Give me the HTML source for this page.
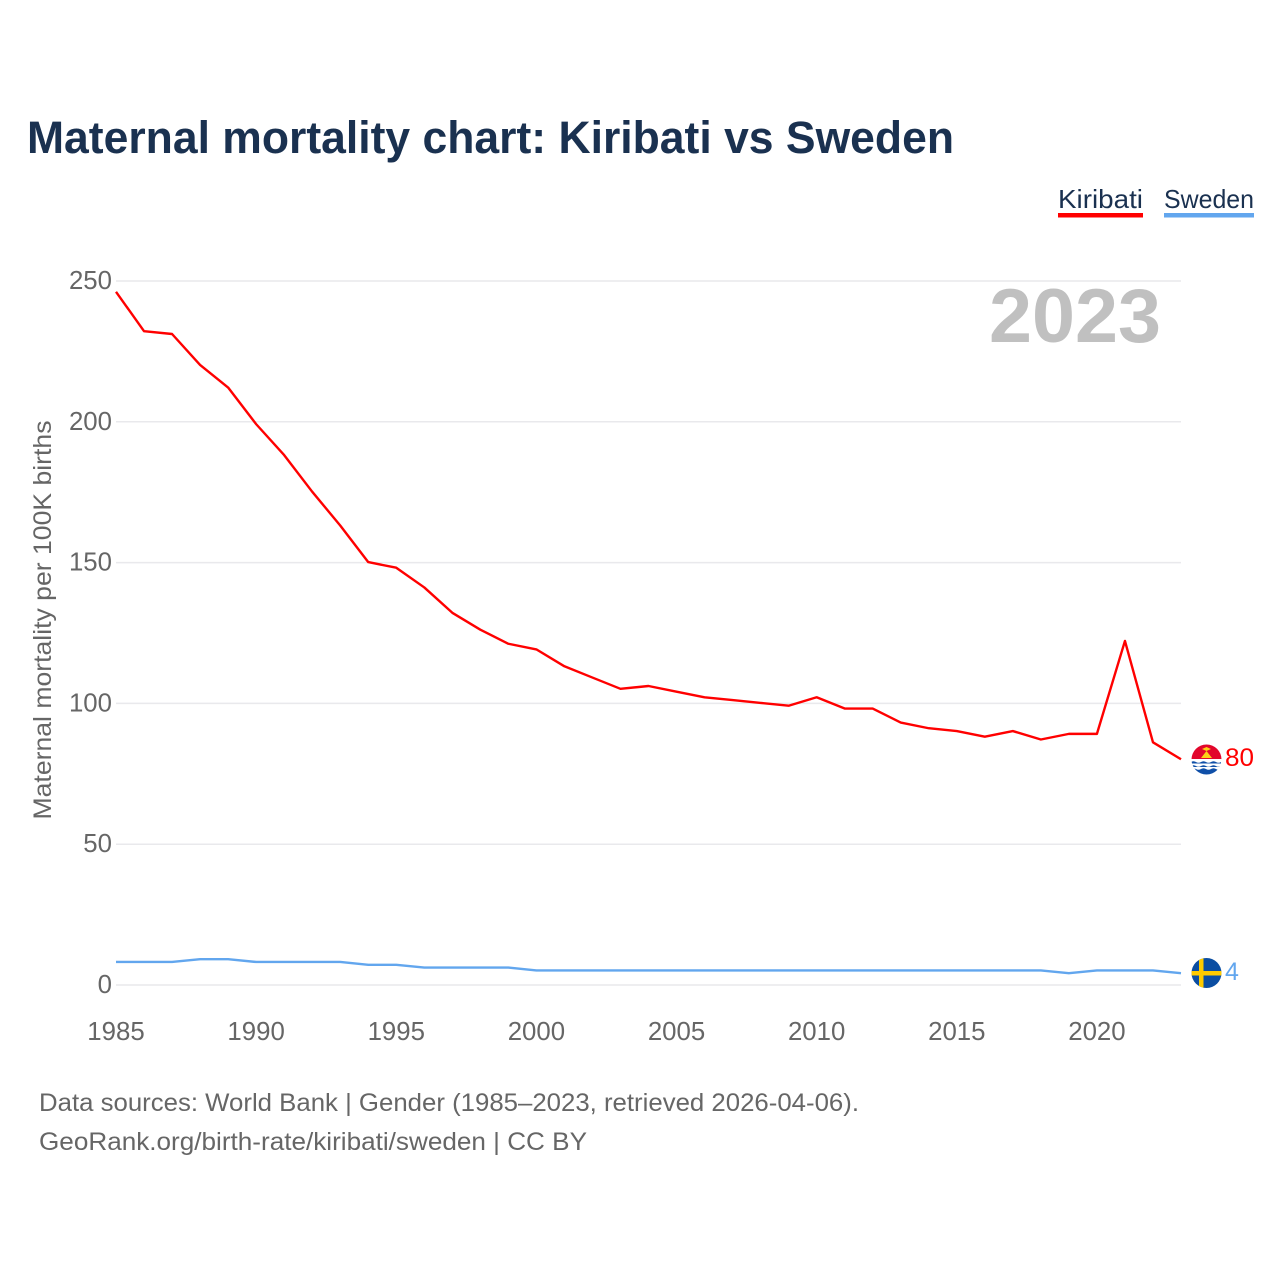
<!DOCTYPE html>
<html lang="en">
<head>
<meta charset="utf-8">
<title>Maternal mortality chart: Kiribati vs Sweden</title>
<style>
html,body{margin:0;padding:0;background:#fff;width:1280px;height:1280px;overflow:hidden}
svg{display:block}
text{font-family:"Liberation Sans",sans-serif}
</style>
</head>
<body>
<svg id="chart" xmlns="http://www.w3.org/2000/svg" width="1280" height="1280" viewBox="0 0 1280 1280">
  <defs>
    <clipPath id="clip-ki"><circle cx="1206.5" cy="759.5" r="15"/></clipPath>
    <clipPath id="clip-se"><circle cx="1206.5" cy="973" r="15"/></clipPath>
  </defs>
  <text x="27" y="153" font-size="45" font-weight="700" fill="#1a3150" textLength="927" lengthAdjust="spacingAndGlyphs">Maternal mortality chart: Kiribati vs Sweden</text>

  <g>
    <text x="1058" y="208" font-size="26" fill="#1a3150" textLength="85" lengthAdjust="spacingAndGlyphs">Kiribati</text>
    <rect x="1058" y="213" width="85" height="4.5" fill="#ff0000"/>
  </g>
  <g>
    <text x="1164" y="208" font-size="26" fill="#1a3150" textLength="90" lengthAdjust="spacingAndGlyphs">Sweden</text>
    <rect x="1164" y="213" width="90" height="4.5" fill="#62a6ee"/>
  </g>

  <text x="1161" y="342" font-size="76" font-weight="700" fill="#c0c0c0" text-anchor="end" textLength="172" lengthAdjust="spacingAndGlyphs">2023</text>

  <g id="grid"></g>
  <g id="yticks"></g>
  <g id="xticks"></g>

  <text transform="translate(51 620) rotate(-90)" font-size="25" fill="#666666" text-anchor="middle" textLength="399" lengthAdjust="spacingAndGlyphs">Maternal mortality per 100K births</text>

  <g id="series" transform="translate(0 -0.5)"></g>

  <g clip-path="url(#clip-ki)">
    <rect x="1191" y="744" width="31" height="16" fill="#e2062c"/>
    <rect x="1191" y="759" width="31" height="16" fill="#ffffff"/>
    <path d="M1201 758 L1206.5 751 L1212 758 Z" fill="#fcd116"/>
    <path d="M1202 749 L1206.5 747 L1211 749 L1206.5 751 Z" fill="#fcd116"/>
    <path d="M1191 762 q2.5 -1.5 5 0 t5 0 t5 0 t5 0 t5 0 t5 0 V763.5 H1191 Z" fill="#0f4fa8"/>
    <path d="M1191 766 q2.5 -1.5 5 0 t5 0 t5 0 t5 0 t5 0 t5 0 V767 H1191 Z" fill="#0f4fa8"/>
    <path d="M1191 769 q2.5 -1.5 5 0 t5 0 t5 0 t5 0 t5 0 t5 0 V775 H1191 Z" fill="#0f4fa8"/>
  </g>
  <text id="label-ki" x="1225" y="766" font-size="25" fill="#ff0000" textLength="29" lengthAdjust="spacingAndGlyphs"></text>

  <g clip-path="url(#clip-se)">
    <rect x="1191" y="957" width="31" height="32" fill="#0b4ea2"/>
    <rect x="1199" y="957" width="4.5" height="32" fill="#fecb00"/>
    <rect x="1191" y="971" width="31" height="4.5" fill="#fecb00"/>
  </g>
  <text id="label-se" x="1225" y="980" font-size="25" fill="#62a6ee"></text>

  <text x="39" y="1111" font-size="25" fill="#666666" textLength="820" lengthAdjust="spacingAndGlyphs">Data sources: World Bank | Gender (1985–2023, retrieved 2026-04-06).</text>
  <text x="39" y="1150" font-size="25" fill="#666666" textLength="548" lengthAdjust="spacingAndGlyphs">GeoRank.org/birth-rate/kiribati/sweden | CC BY</text>
</svg>
<script>
const years = [1985,1986,1987,1988,1989,1990,1991,1992,1993,1994,1995,1996,1997,1998,1999,2000,2001,2002,2003,2004,2005,2006,2007,2008,2009,2010,2011,2012,2013,2014,2015,2016,2017,2018,2019,2020,2021,2022,2023];
const kiribati = [246,232,231,220,212,199,188,175,163,150,148,141,132,126,121,119,113,109,105,106,104,102,101,100,99,102,98,98,93,91,90,88,90,87,89,89,122,86,80];
const sweden = [8,8,8,9,9,8,8,8,8,7,7,6,6,6,6,5,5,5,5,5,5,5,5,5,5,5,5,5,5,5,5,5,5,5,4,5,5,5,4];
const yTickValues = [0,50,100,150,200,250];
const xTickValues = [1985,1990,1995,2000,2005,2010,2015,2020];

const SVG_NS = 'http://www.w3.org/2000/svg';
function xScale(year) { return 116 + (year - 1985) * (1181 - 116) / 38; }
function yScale(value) { return 985 - value * (985 - 281) / 250; }

const grid = document.getElementById('grid');
const yticks = document.getElementById('yticks');
const xticks = document.getElementById('xticks');
const seriesGroup = document.getElementById('series');

yTickValues.forEach(function (v) {
  const line = document.createElementNS(SVG_NS, 'line');
  
  
  line.setAttribute('x1', 116);
  line.setAttribute('x2', 1181);
  line.setAttribute('y1', yScale(v));
  line.setAttribute('y2', yScale(v));
  line.setAttribute('stroke', '#e9e9ec');
  line.setAttribute('stroke-width', 1.5);
  grid.appendChild(line);

  const label = document.createElementNS(SVG_NS, 'text');
  
  
  label.setAttribute('x', 112);
  label.setAttribute('y', yScale(v) + 8);
  label.setAttribute('font-size', 25.8);
  label.setAttribute('fill', '#666666');
  label.setAttribute('text-anchor', 'end');
  label.textContent = String(v);
  yticks.appendChild(label);
});

xTickValues.forEach(function (t) {
  const label = document.createElementNS(SVG_NS, 'text');
  
  
  label.setAttribute('x', xScale(t));
  label.setAttribute('y', 1040);
  label.setAttribute('font-size', 25.8);
  label.setAttribute('fill', '#666666');
  label.setAttribute('text-anchor', 'middle');
  label.textContent = String(t);
  xticks.appendChild(label);
});

function pathFor(values) {
  return values.map(function (v, i) {
    return (i ? 'L' : 'M') + xScale(years[i]).toFixed(2) + ' ' + yScale(v).toFixed(2);
  }).join(' ');
}

const kiribatiLine = document.createElementNS(SVG_NS, 'path');


kiribatiLine.setAttribute('d', pathFor(kiribati));
kiribatiLine.setAttribute('fill', 'none');
kiribatiLine.setAttribute('stroke', '#ff0000');
kiribatiLine.setAttribute('stroke-width', 2.4);
kiribatiLine.setAttribute('stroke-linejoin', 'round');
seriesGroup.appendChild(kiribatiLine);

const swedenLine = document.createElementNS(SVG_NS, 'path');


swedenLine.setAttribute('d', pathFor(sweden));
swedenLine.setAttribute('fill', 'none');
swedenLine.setAttribute('stroke', '#62a6ee');
swedenLine.setAttribute('stroke-width', 2.4);
swedenLine.setAttribute('stroke-linejoin', 'round');
seriesGroup.appendChild(swedenLine);

document.getElementById('label-ki').textContent = String(kiribati[kiribati.length - 1]);
document.getElementById('label-se').textContent = String(sweden[sweden.length - 1]);
</script>
</body>
</html>
